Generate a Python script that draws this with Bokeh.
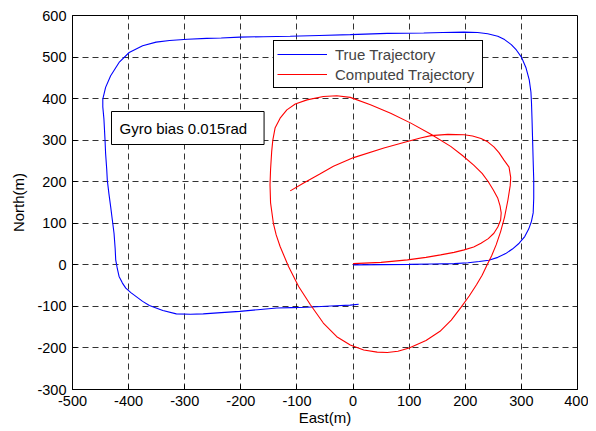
from bokeh.plotting import figure
from bokeh.models import Legend, LegendItem, Label, FixedTicker, Range1d, PrintfTickFormatter
from bokeh.embed import file_html
from bokeh.resources import INLINE

# ---- data ----
true_east = [0, 50, 100, 140, 180, 205, 225, 242, 258, 272, 284, 296, 306, 313, 318, 321,
             322, 322, 321, 320, 319, 318, 317, 314, 308, 300, 291, 282, 270, 258, 240, 222,
             198, 160, 126, 61, -5, -60, -112, -160, -202, -235, -261, -295, -327, -351,
             -375, -399, -417, -432, -441, -446, -446, -444, -442, -441, -439, -438, -435,
             -432, -429, -426, -424, -423, -420, -417, -411, -405, -396, -387, -375, -363,
             -339, -315, -290, -267, -235, -202, -170, -136, -110, -82, -40, -5, 10]
true_north = [0, 0.5, 1, 2, 3, 5, 8, 11, 18, 27, 38, 52, 68, 86, 105, 125,
              160, 204, 250, 300, 348, 390, 416, 445, 475, 500, 517, 530, 542, 550, 556, 559,
              560, 559, 558, 557, 554, 552, 550, 549, 548, 546, 545, 543, 540, 536,
              527, 511, 487, 455, 427, 399, 380, 351, 300, 268, 230, 204, 170,
              140, 108, 76, 40, 12, -10, -28, -44, -56, -67, -76, -88, -98,
              -110, -118, -119, -118, -115, -112, -108, -104, -103, -102, -99, -97, -95]

comp_east = [0, 50, 97, 130, 156, 180, 198, 215, 228, 241, 251, 258, 263, 264, 262, 258,
             250, 241, 230, 215, 195, 174, 138, 103, 67, 31, -5, -29, -53, -82, -103, -118,
             -130, -139, -143, -145, -147, -148, -147, -142, -137, -130, -115, -97, -76, -53,
             -29, -5, 19, 43, 61, 80, 100, 130, 155, 175, 192, 207, 220, 230, 239, 247, 255,
             263, 270, 276, 280, 281, 278, 269, 260, 251, 240, 228, 213, 198, 169, 139, 120,
             100, 55, 1, -35, -60, -88, -112]
comp_north = [3, 6, 12, 18, 24, 30, 36, 43, 52, 63, 76, 91, 108, 125, 142, 160,
              180, 200, 220, 240, 263, 285, 315, 341, 365, 385, 403, 407, 405, 397, 387, 373,
              353, 329, 300, 273, 230, 193, 149, 100, 72, 44, -4, -52, -96, -140,
              -173, -193, -205, -210, -211, -208, -200, -182, -160, -133, -103, -75, -48, -25, 0, 22, 48,
              80, 115, 156, 190, 210, 235, 252, 270, 284, 296, 304, 310, 313, 314, 311, 305,
              298, 281, 258, 237, 218, 197, 178]

x_ticks = [-500, -400, -300, -200, -100, 0, 100, 200, 300, 400]
y_ticks = [-300, -200, -100, 0, 100, 200, 300, 400, 500, 600]
legend_labels = ["True Trajectory", "Computed Trajectory"]
annotation_text = "Gyro bias 0.015rad"
x_label = "East(m)"
y_label = "North(m)"

FONT = "Liberation Sans"

p = figure(width=588, height=428,
           x_range=Range1d(-500, 400), y_range=Range1d(-300, 600),
           output_backend="svg", toolbar_location=None,
           min_border_left=72, min_border_right=11, min_border_top=15, min_border_bottom=39,
           background_fill_color="white", border_fill_color="white")

r_true = p.line(true_east, true_north, line_color="#0000ff", line_width=1.1)
r_comp = p.line(comp_east, comp_north, line_color="#ff0000", line_width=1.1)

# axes
for ax, ticks, lab in ((p.xaxis, x_ticks, x_label), (p.yaxis, y_ticks, y_label)):
    ax.ticker = FixedTicker(ticks=ticks)
    ax.formatter = PrintfTickFormatter(format="%d")
    ax.axis_label = lab
    ax.axis_label_text_font = FONT
    ax.axis_label_text_font_size = "15px"
    ax.axis_label_text_font_style = "normal"
    ax.axis_label_text_color = "black"
    ax.major_label_text_font = FONT
    ax.major_label_text_font_size = "14.5px"
    ax.major_label_text_color = "black"
    ax.major_tick_in = 5
    ax.major_tick_out = 0
    ax.minor_tick_in = 0
    ax.minor_tick_out = 0
    ax.axis_line_color = "black"
    ax.major_tick_line_color = "black"

p.xaxis.major_label_standoff = 6
p.xaxis.axis_label_standoff = 0
p.yaxis.major_label_standoff = 6
p.yaxis.axis_label_standoff = 7

# grid
p.xgrid.ticker = FixedTicker(ticks=x_ticks)
p.ygrid.ticker = FixedTicker(ticks=y_ticks)
p.grid.grid_line_color = "black"
p.grid.grid_line_alpha = 0.8
p.grid.grid_line_dash = "6 4"
p.grid.grid_line_width = 1

p.outline_line_color = "black"
p.outline_line_alpha = 1
p.outline_line_width = 1

# legend
legend = Legend(items=[LegendItem(label=legend_labels[0], renderers=[r_true]),
                       LegendItem(label=legend_labels[1], renderers=[r_comp])],
                location=(201, 301), margin=0, padding=3, spacing=0,
                glyph_width=50, glyph_height=20, label_height=20, label_width=144,
                label_standoff=8,
                label_text_font=FONT, label_text_font_size="15px",
                border_line_color="black", border_line_width=1, border_line_alpha=1,
                background_fill_color="white", background_fill_alpha=1)
p.add_layout(legend)

# annotation box
box = Label(x=39, y=245, x_units="screen", y_units="screen",
            text=annotation_text, text_font=FONT, text_font_size="15px",
            text_color="black",
            border_line_color="black", border_line_width=1,
            background_fill_color="white", background_fill_alpha=1,
            padding=(8, 17, 8, 8))
p.add_layout(box)

open("out.html", "w").write(file_html(p, INLINE))
